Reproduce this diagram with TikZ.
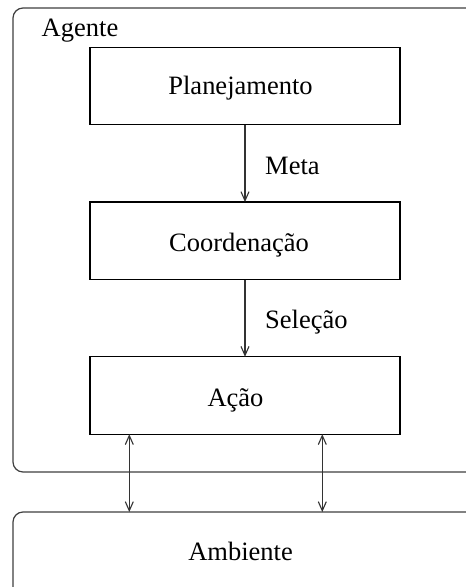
\documentclass[tikz,border=0pt]{standalone}
\usepackage{fontspec}
\setmainfont{Liberation Serif}
\usetikzlibrary{arrows.meta}
\tikzset{
  px/.style={x=1pt,y=-1pt},
  outerbox/.style={draw=black!75, line width=1.2pt, rounded corners=10pt},
  innerbox/.style={draw=black, line width=1.2pt, minimum width=310pt, minimum height=77.5pt, inner sep=0pt, outer sep=0pt},
  txt/.style={font=\fontsize{26.5}{30}\selectfont, anchor=base, inner sep=0pt},
  conn/.style={draw=black!80, line width=1.1pt, -{Straight Barb[length=9pt,width=8pt]}},
  dconn/.style={draw=black!80, line width=1.1pt, {Straight Barb[length=9pt,width=8pt]}-{Straight Barb[length=9pt,width=8pt]}}
}
\begin{document}
\begin{tikzpicture}[px]
\useasboundingbox (0,0) rectangle (466,587);
\clip (0,0) rectangle (466,587);
\fill[white] (0,0) rectangle (466,587);
% outer boxes
\draw[outerbox] (13,8) rectangle (490,472);
\draw[outerbox] (13,512) rectangle (490,620);
\node[txt] (agente) at (80,36.5) {Agente};
\node[txt] (ambiente) at (240.5,560) {Ambiente};
% inner boxes
\node[innerbox] (plan) at (245,86) {};
\node[innerbox] (coord) at (245,240.8) {};
\node[innerbox] (acao) at (245,395.5) {};
\node[txt] (plant) at (240.5,94) {Planejamento};
\node[txt] (coordt) at (239,251.7) {Coordenação};
\node[txt] (acaot) at (235.5,406.4) {Ação};
% coordinates for ambiente top
\coordinate (amb1) at (129.3,512);
\coordinate (amb2) at (322.3,512);
% arrows
\draw[conn] (plan.south) -- (coord.north);
\draw[conn] (coord.south) -- (acao.north);
\node[txt, anchor=base west] (meta) at (265,174) {Meta};
\node[txt, anchor=base west] (selecao) at (265,328) {Seleção};
\draw[dconn] (acao.south -| amb1) -- (amb1);
\draw[dconn] (acao.south -| amb2) -- (amb2);
\end{tikzpicture}
\end{document}
